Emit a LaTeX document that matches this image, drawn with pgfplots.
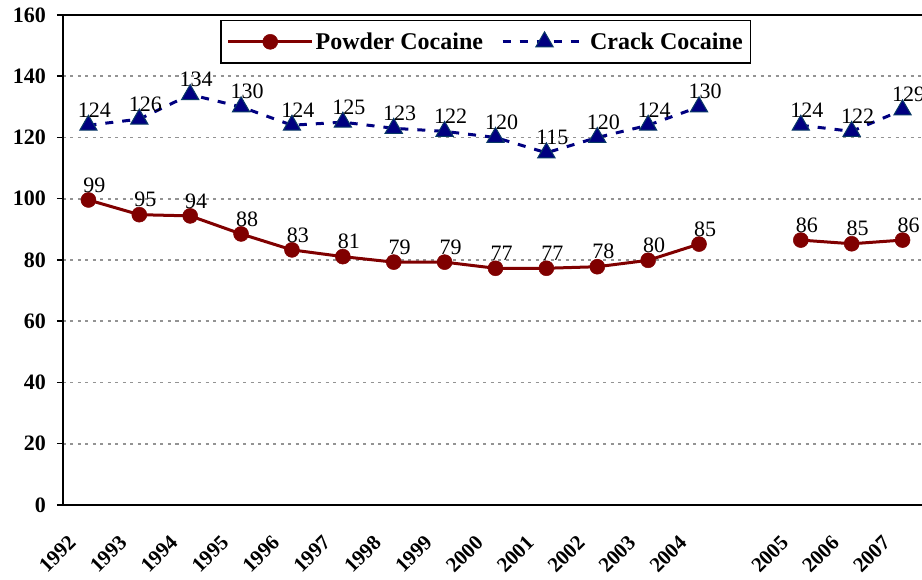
\documentclass[border=0pt]{standalone}
\usepackage{fontspec}
\setmainfont{Liberation Serif}
\usepackage{pgfplots}
\pgfplotsset{compat=1.18}
\usepackage{pgfplotstable}
\definecolor{powder}{HTML}{800000}
\definecolor{crack}{HTML}{000080}
\definecolor{crackedge}{HTML}{0A3A66}

\pgfplotstableread{
x y lab
0 99.6 99
1 94.8 95
2 94.4 94
3 88.5 88
4 83.3 83
5 81.1 81
6 79.3 79
7 79.3 79
8 77.3 77
9 77.3 77
10 77.8 78
11 79.9 80
12 85.2 85
13 nan x
14 86.5 86
15 85.3 85
16 86.5 86
}\powder

\pgfplotstableread{
x y lab
0 124 124
1 126 126
2 134 134
3 130 130
4 124 124
5 125 125
6 123 123
7 122 122
8 120 120
9 115 115
10 120 120
11 124 124
12 130 130
13 nan x
14 124 124
15 122 122
16 129 129
}\crack

\begin{document}
\begin{tikzpicture}
\begin{axis}[
  scale only axis,
  width=865pt, height=490pt,
  xmin=-0.5, xmax=16.5,
  ymin=0, ymax=160,
  ytick={0,20,...,160},
  xtick={-0.22,0.78,1.78,2.78,3.78,4.78,5.78,6.78,7.78,8.78,9.78,10.78,11.78,13.78,14.78,15.78},
  xticklabels={1992,1993,1994,1995,1996,1997,1998,1999,2000,2001,2002,2003,2004,2005,2006,2007},
  xtick style={draw=none},
  xticklabel style={font=\fontsize{21}{25}\selectfont\bfseries, xshift=-10pt, yshift=-23pt, rotate=45, anchor=north east, inner sep=0pt},
  extra x ticks={-0.5,0.5,...,16.5},
  extra x tick labels={},
  extra x tick style={grid=none, major tick length=6pt, tick style={draw=black, line width=1.5pt}},
  tick pos=left,
  tick align=outside,
  major tick length=6pt,
  ytick style={black, line width=1.5pt},
  yticklabel style={font=\fontsize{22}{26}\selectfont\bfseries, inner sep=3pt, xshift=-8pt},
  /pgf/number format/assume math mode=true,
  axis line style={line width=1.5pt, black},
  ymajorgrids,
  major grid style={gray!85, line width=1.6pt, dash pattern=on 3pt off 4.5pt},
  unbounded coords=jump,
  point meta=explicit symbolic,
  nodes near coords,
  nodes near coords style={font=\fontsize{22}{26}\selectfont, text=black, anchor=south, xshift=6pt, yshift=4pt},
  legend columns=2,
  legend style={at={(0.1815,1)}, anchor=north west, yshift=-5pt, draw=black, line width=1.5pt,
    font=\fontsize{24}{28}\selectfont\bfseries, inner xsep=6pt, inner ysep=10pt,
    /tikz/every even column/.append style={column sep=16pt}},
  legend image code/.code={
    \draw[#1, mark repeat=2, mark phase=2] plot coordinates {(0pt,0pt) (42pt,0pt) (84pt,0pt)};
  },
]
\addplot[powder, line width=3pt, mark=*, mark size=7.5pt, mark options={fill=powder, draw=powder, line width=0.5pt}]
  table[x=x, y=y, meta=lab] {\powder};
\addlegendentry{Powder Cocaine}
\addplot[crack, line width=3pt, dash pattern=on 8pt off 9pt, mark=triangle*, mark size=10pt, mark options={solid, fill=crack, draw=crackedge, line width=1pt}]
  table[x=x, y=y, meta=lab] {\crack};
\addlegendentry{Crack Cocaine}
\end{axis}
\pgfresetboundingbox
\path (current axis.south west) ++(-63pt,-75pt) rectangle ++(922pt,580pt);
\end{tikzpicture}
\end{document}
